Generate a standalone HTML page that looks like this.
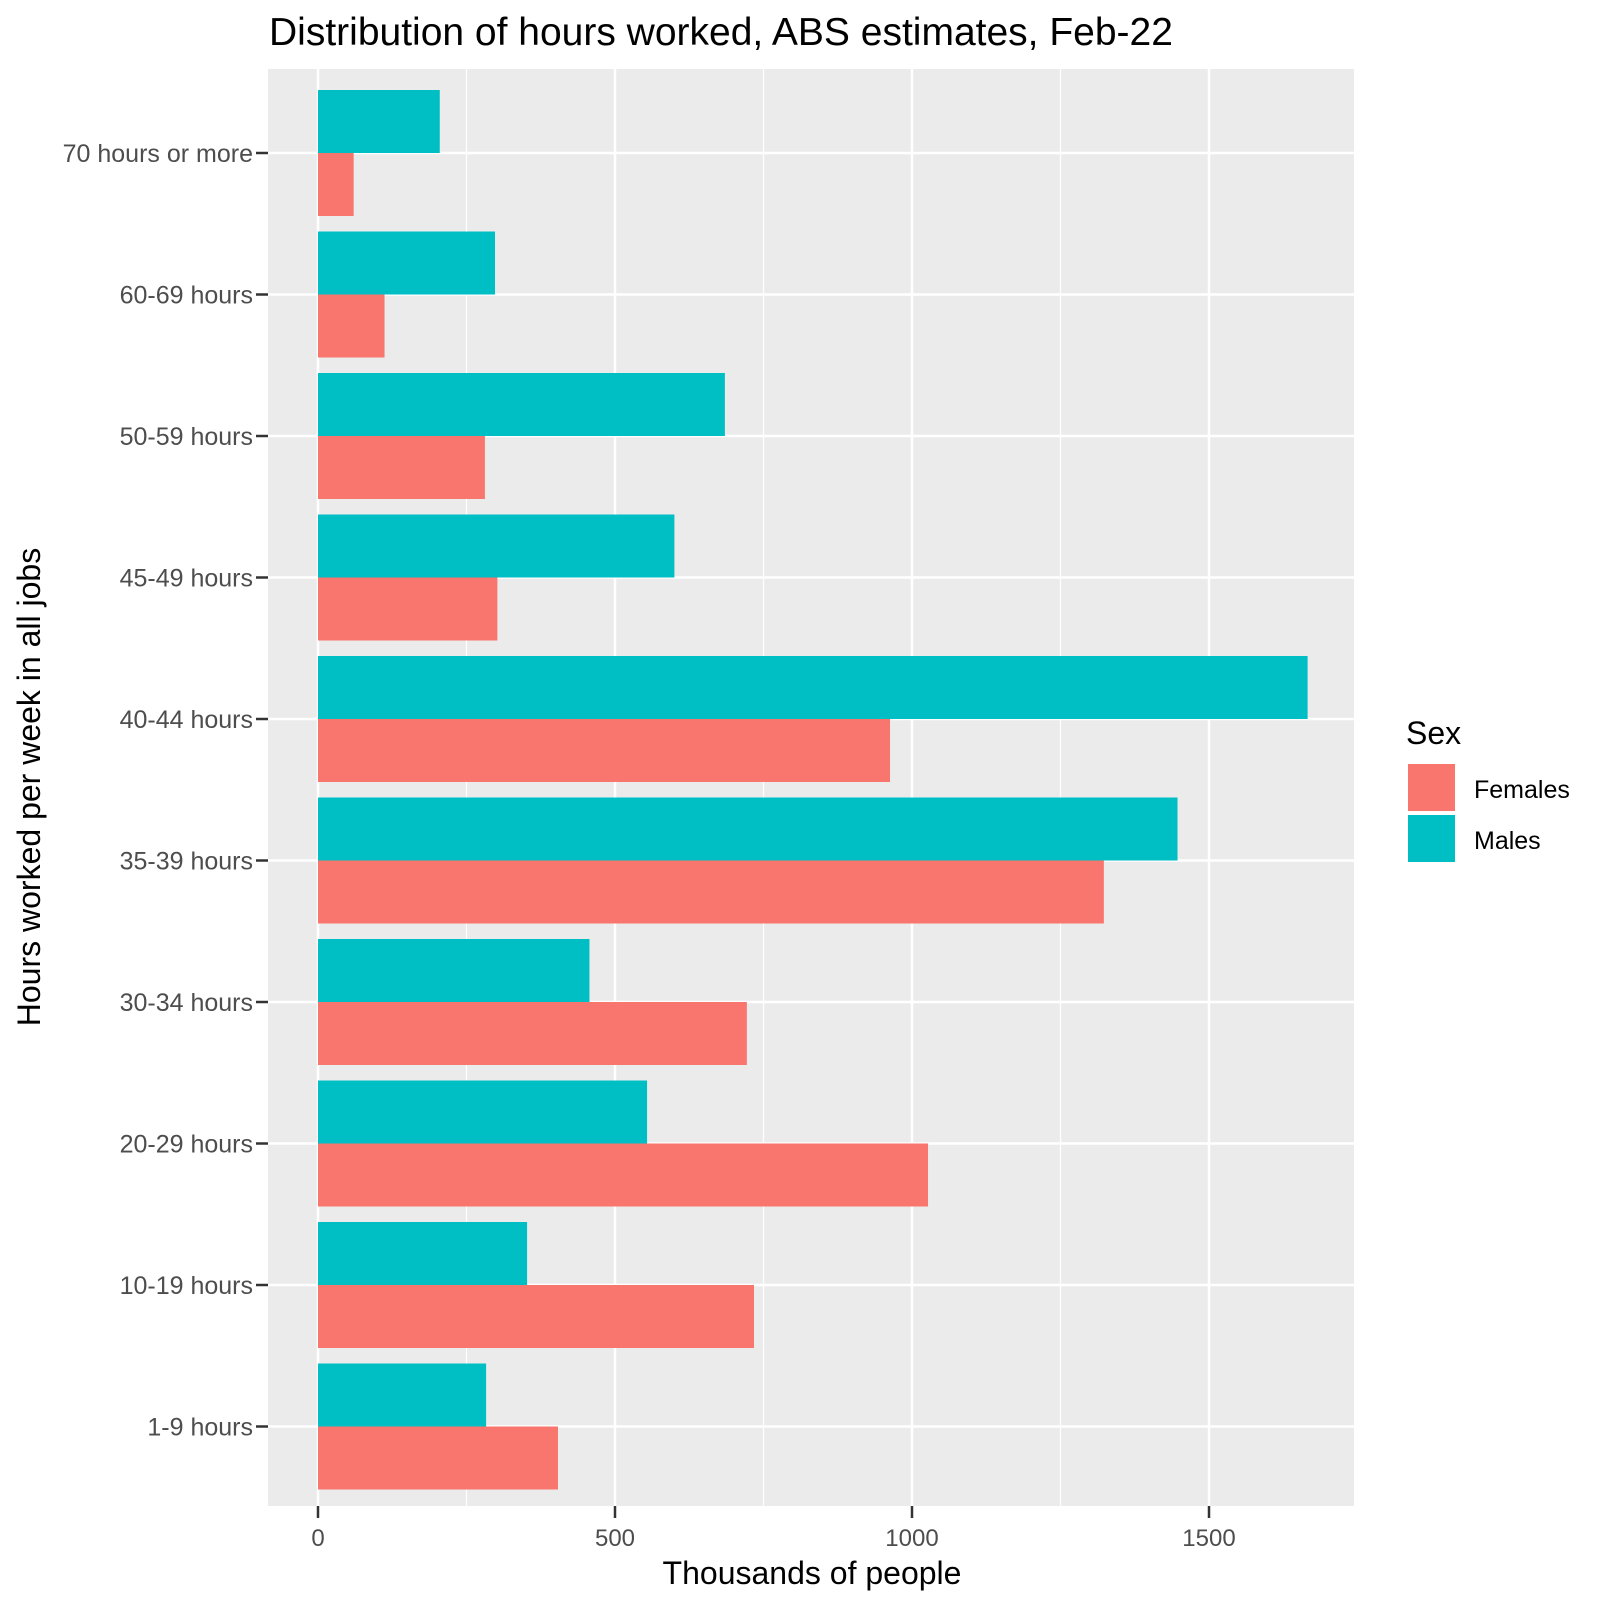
<!DOCTYPE html>
<html><head><meta charset="utf-8"><style>
body{margin:0;background:#fff;}
svg text{font-family:"Liberation Sans",Arial,sans-serif;}
</style></head><body>
<svg id="chart" width="1600" height="1600" viewBox="0 0 1600 1600" xmlns="http://www.w3.org/2000/svg">
<rect x="0" y="0" width="1600" height="1600" fill="#fff"/>
<text x="269" y="45" font-size="39" fill="#000">Distribution of hours worked, ABS estimates, Feb-22</text>
<rect x="268" y="69" width="1086" height="1437" fill="#EBEBEB"/>
<g id="grid"></g>
<g id="bars"></g>
<g id="yaxis"></g>
<g id="xaxis"></g>
<text x="812" y="1584" font-size="32" text-anchor="middle" fill="#000">Thousands of people</text>
<text transform="translate(40,787) rotate(-90)" font-size="32" text-anchor="middle" fill="#000">Hours worked per week in all jobs</text>
<g>
<text x="1406" y="744" font-size="32" fill="#000">Sex</text>
<rect x="1408" y="764" width="47" height="47" fill="#F8766D"/>
<text x="1474" y="798" font-size="25" fill="#000">Females</text>
<rect x="1408" y="815" width="47" height="47" fill="#00BFC4"/>
<text x="1474" y="849" font-size="25" fill="#000">Males</text>
</g>
</svg>
<script>
const categories = ["70 hours or more","60-69 hours","50-59 hours","45-49 hours","40-44 hours","35-39 hours","30-34 hours","20-29 hours","10-19 hours","1-9 hours"];
const males = [205,298,685,600,1666,1447,457,554,352,283];
const females = [60,112,281,302,963,1323,722,1027,734,404];
const xTicks = [0,500,1000,1500];
const xMinor = [250,750,1250,1750];

const NS="http://www.w3.org/2000/svg";
const x0=318, kx=0.594;
function xs(v){return x0+v*kx;}
const yTop=153, step=141.5;
function ys(i){return yTop+i*step;}
const half=63;
function mk(tag,attrs,parent){const e=document.createElementNS(NS,tag);for(const k in attrs)e.setAttribute(k,attrs[k]);parent.appendChild(e);return e;}
const grid=document.getElementById('grid'),bars=document.getElementById('bars'),ya=document.getElementById('yaxis'),xa=document.getElementById('xaxis');
xMinor.forEach(v=>{const px=xs(v);if(px<1354){const l=mk('line',{x1:px,x2:px,y1:69,y2:1506,stroke:'#fff','stroke-width':1.2},grid);

}});
xTicks.forEach(v=>{const l=mk('line',{x1:xs(v),x2:xs(v),y1:69,y2:1506,stroke:'#fff','stroke-width':2.5},grid);


const t=mk('line',{x1:xs(v),x2:xs(v),y1:1506,y2:1518,stroke:'#333','stroke-width':2.5},xa);


const tx=mk('text',{x:xs(v),y:1546,'font-size':24,'text-anchor':'middle',fill:'#4D4D4D'},xa);
tx.textContent=v;

});
categories.forEach((c,i)=>{const y=ys(i);
const g=mk('line',{x1:268,x2:1354,y1:y,y2:y,stroke:'#fff','stroke-width':2.5},grid);


const m=mk('rect',{x:x0,y:y-half,width:males[i]*kx,height:half,fill:'#00BFC4'},bars);


const f=mk('rect',{x:x0,y:y,width:females[i]*kx,height:half,fill:'#F8766D'},bars);


const t=mk('line',{x1:256,x2:268,y1:y,y2:y,stroke:'#333','stroke-width':2.5},ya);


const tx=mk('text',{x:253,y:y+9,'font-size':25,'text-anchor':'end',fill:'#4D4D4D'},ya);
tx.textContent=c;

});
</script>
</body></html>
